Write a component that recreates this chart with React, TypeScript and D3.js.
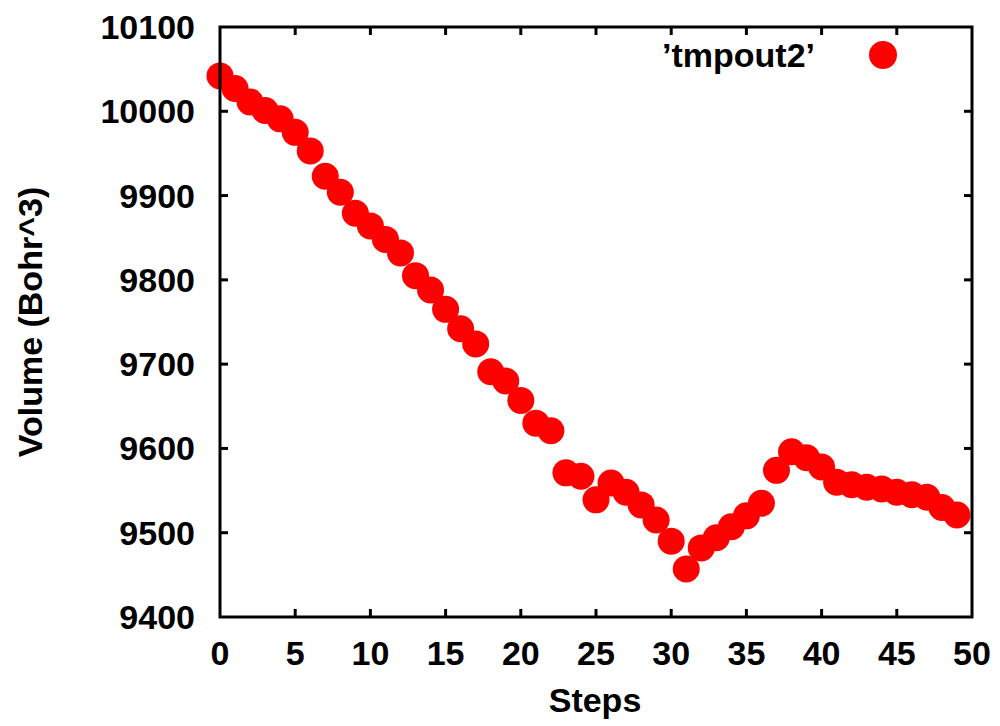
import React, { useEffect, useRef } from "react";
import * as d3 from "d3";

const steps: number[] = Array.from({ length: 50 }, (_, i) => i);
const volumes: number[] = [
  10042, 10027, 10011, 10001, 9991, 9975, 9953, 9923, 9904, 9879,
  9864, 9848, 9832, 9805, 9788, 9765, 9742, 9724, 9691, 9680,
  9657, 9630, 9621, 9571, 9567, 9539, 9559, 9548, 9533, 9515,
  9490, 9457, 9482, 9494, 9507, 9520, 9535, 9574, 9596, 9589,
  9578, 9560, 9557, 9554, 9552, 9548, 9545, 9542, 9530, 9521,
];
const xTicks: number[] = [0, 5, 10, 15, 20, 25, 30, 35, 40, 45, 50];
const yTicks: number[] = [9400, 9500, 9600, 9700, 9800, 9900, 10000, 10100];
const seriesName = "\u2019tmpout2\u2019";
const xLabel = "Steps";
const yLabel = "Volume (Bohr^3)";

export default function App() {
  const ref = useRef<SVGSVGElement>(null);
  useEffect(() => {
    const svg = d3.select(ref.current);
    svg.selectAll("*").remove();
    const left = 220, right = 972, top = 27, bottom = 617;
    const x = d3.scaleLinear().domain([0, 50]).range([left, right]);
    const y = d3.scaleLinear().domain([9400, 10100]).range([bottom, top]);
    const font = "'Liberation Sans', Arial, sans-serif";
    const fs = 34;

    // points
    svg.append("g").selectAll("circle").data(steps).enter().append("circle")
      .attr("cx", (d) => x(d)).attr("cy", (d, i) => y(volumes[i]))
      .attr("r", 13.5).attr("fill", "#ff0000");

    // frame
    svg.append("rect").attr("x", left).attr("y", top)
      .attr("width", right - left).attr("height", bottom - top)
      .attr("fill", "none").attr("stroke", "#000").attr("stroke-width", 3);

    const tl = 8;
    const g = svg.append("g").attr("stroke", "#000").attr("stroke-width", 3);
    xTicks.forEach((t) => {
      if (t === 0 || t === 50) return;
      g.append("line").attr("x1", x(t)).attr("x2", x(t)).attr("y1", bottom).attr("y2", bottom - tl);
      g.append("line").attr("x1", x(t)).attr("x2", x(t)).attr("y1", top).attr("y2", top + tl);
    });
    yTicks.forEach((t) => {
      if (t === 9400 || t === 10100) return;
      g.append("line").attr("x1", left).attr("x2", left + tl).attr("y1", y(t)).attr("y2", y(t));
      g.append("line").attr("x1", right).attr("x2", right - tl).attr("y1", y(t)).attr("y2", y(t));
    });

    const txt = svg.append("g").attr("font-family", font).attr("font-weight", "bold")
      .attr("font-size", fs).attr("fill", "#000");
    xTicks.forEach((t) => {
      txt.append("text").attr("x", x(t)).attr("y", 665).attr("text-anchor", "middle").text(String(t));
    });
    yTicks.forEach((t) => {
      txt.append("text").attr("x", 195).attr("y", y(t) + 12).attr("text-anchor", "end").text(String(t));
    });
    txt.append("text").attr("x", 595).attr("y", 712).attr("text-anchor", "middle").text(xLabel);
    txt.append("text").attr("transform", "translate(42,322) rotate(-90)")
      .attr("text-anchor", "middle").text(yLabel);

    // legend
    txt.append("text").attr("x", 815).attr("y", 67).attr("text-anchor", "end").text(seriesName);
    svg.append("circle").attr("cx", 883).attr("cy", 55).attr("r", 14).attr("fill", "#ff0000");
  }, []);
  return (
    <svg ref={ref} width={1000} height={726}
      style={{ position: "absolute", left: 0, top: 0, background: "#fff" }} />
  );
}
